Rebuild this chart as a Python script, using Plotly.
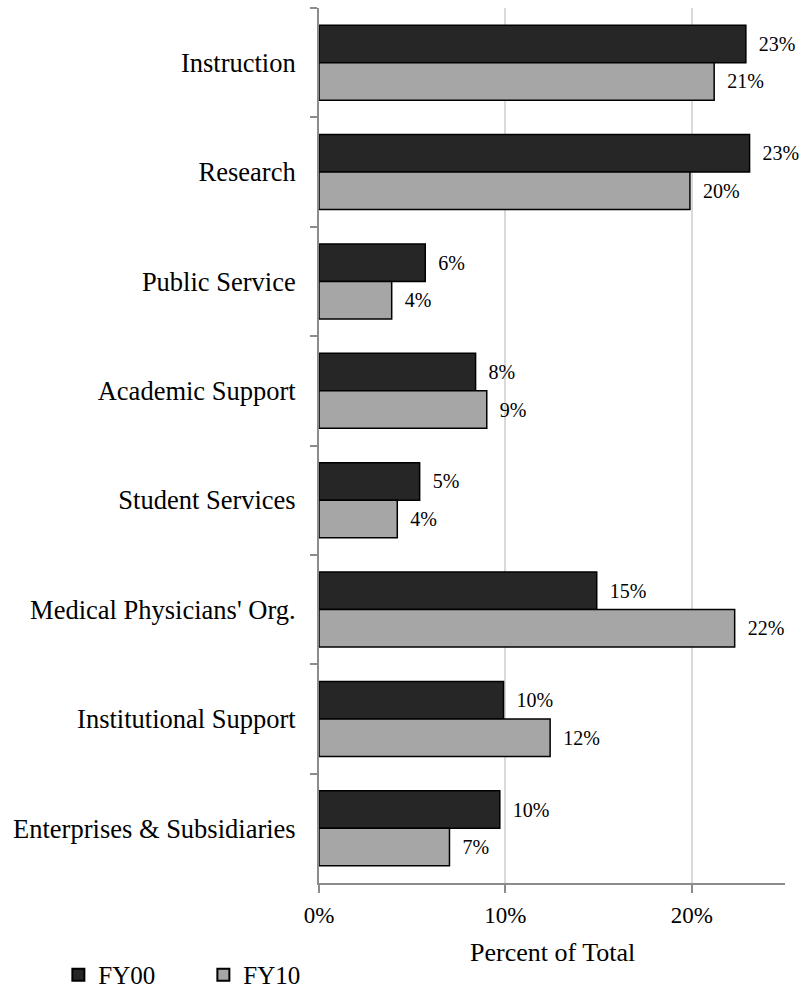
import plotly.graph_objects as go

categories = ["Instruction", "Research", "Public Service", "Academic Support",
              "Student Services", "Medical Physicians' Org.", "Institutional Support",
              "Enterprises & Subsidiaries"]
fy00 = [22.9, 23.1, 5.7, 8.4, 5.4, 14.9, 9.9, 9.7]
fy10 = [21.2, 19.9, 3.9, 9.0, 4.2, 22.3, 12.4, 7.0]
x_ticks = [0, 10, 20]
x_tick_labels = ["0%", "10%", "20%"]
x_title = "Percent of Total"

FONT = "Liberation Serif, Times New Roman, serif"
AXIS_GRAY = "#8c8c8c"

fig = go.Figure()
for name, vals, color in [("FY00", fy00, "#262626"), ("FY10", fy10, "#a6a6a6")]:
    fig.add_trace(go.Bar(
        name=name, y=categories, x=vals, orientation="h",
        marker=dict(color=color, line=dict(color="#000000", width=1.5)),
        text=vals, texttemplate="\u00a0\u00a0%{x:.0f}%", textposition="outside",
        textfont=dict(family=FONT, size=20, color="#000000"),
        constraintext="none", cliponaxis=False,
    ))

fig.update_layout(
    width=804, height=988,
    margin=dict(l=319, r=19, t=8, b=105, autoexpand=False),
    barmode="group", bargap=0.314, bargroupgap=0,
    plot_bgcolor="#ffffff", paper_bgcolor="#ffffff",
    font=dict(family=FONT, color="#000000"),
    showlegend=True,
    legend=dict(orientation="h", xref="container", yref="container",
                x=0.0726, xanchor="left", y=0.0132, yanchor="middle",
                font=dict(family=FONT, size=25), bgcolor="rgba(0,0,0,0)",
                traceorder="normal", itemsizing="constant",
                entrywidth=100, entrywidthmode="pixels"),
    annotations=[dict(text=x_title, xref="paper", yref="paper", x=0.5, y=-0.079,
                      xanchor="center", yanchor="middle", showarrow=False,
                      font=dict(family=FONT, size=26, color="#000000"))],
)
fig.update_xaxes(
    range=[0, 25], tickvals=x_ticks, ticktext=x_tick_labels, automargin=False,
    showline=True, linecolor=AXIS_GRAY, linewidth=2,
    ticks="outside", ticklen=8, tickcolor=AXIS_GRAY, tickwidth=2,
    showgrid=True, gridcolor="#d9d9d9", gridwidth=1.5, zeroline=False,
    tickfont=dict(family=FONT, size=23), ticklabelstandoff=2,
)
fig.update_yaxes(
    autorange="reversed", showline=True, linecolor=AXIS_GRAY, linewidth=2, automargin=False,
    ticks="outside", ticklen=7, tickcolor=AXIS_GRAY, tickwidth=2, tickson="boundaries",
    showgrid=False, zeroline=False,
    tickfont=dict(family=FONT, size=26.5), ticklabelstandoff=16,
)

fig.write_html("out.html", post_script="document.body.style.margin='0';",
               config={"displayModeBar": False})
